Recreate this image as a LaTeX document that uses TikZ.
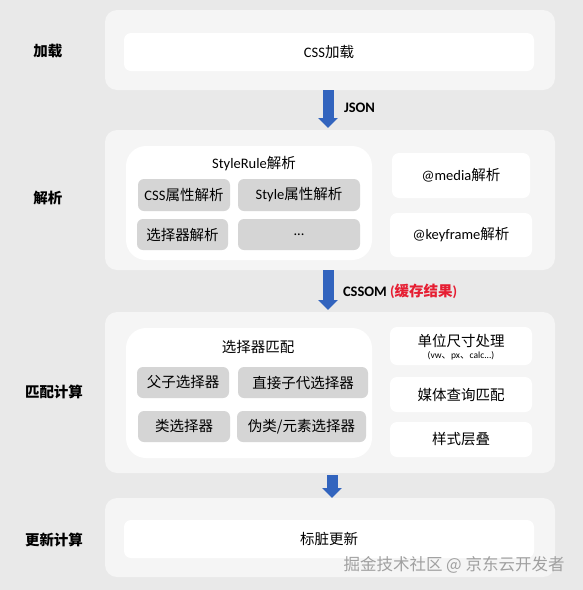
\documentclass[tikz,border=0pt]{standalone}
\usepackage{fontspec}
\setmainfont{Carlito}
\newfontfamily\cjk{Noto Sans CJK SC}
\usetikzlibrary{arrows.meta}
\definecolor{bgc}{RGB}{233,233,233}
\definecolor{panelc}{RGB}{245,245,245}
\definecolor{grayc}{RGB}{213,213,213}
\definecolor{bluec}{RGB}{50,100,190}
\definecolor{redc}{RGB}{230,30,50}
\definecolor{wmc}{RGB}{160,160,160}
\newcommand\Z[1]{{\cjk #1}}
\newcommand\bx[7]{%
  \pgfmathsetmacro\bxcx{(#3+#5)/2}\pgfmathsetmacro\bxcy{(#4+#6)/2}%
  \pgfmathsetmacro\bxw{#5-#3}\pgfmathsetmacro\bxh{#6-#4}%
  \node[#2, minimum width=\bxw pt, minimum height=\bxh pt] (#1) at (\bxcx,\bxcy) {#7};}
\begin{document}
\begin{tikzpicture}[x=1pt,y=-1pt,
  base/.style={inner sep=0pt, outer sep=0pt, font=\fontsize{14.5}{17}\selectfont},
  panel/.style={base, fill=panelc, rounded corners=12pt},
  whitebox/.style={base, fill=white, rounded corners=7pt},
  bigbox/.style={base, fill=white, rounded corners=20pt},
  graybox/.style={base, fill=grayc, rounded corners=6pt},
  lbl/.style={base, font=\fontsize{14.5}{17}\selectfont\bfseries},
  flow/.style={draw=bluec, line width=11pt, -{Triangle[width=19pt,length=10pt]}}]
\useasboundingbox (0,0) rectangle (583,590);
\fill[bgc] (0,0) rectangle (583,590);
% panels
\bx{p1}{panel}{105}{10}{555}{90}{}
\bx{p2}{panel}{105}{130}{555}{270}{}
\bx{p3}{panel}{105}{312}{555}{473}{}
\bx{p4}{panel}{105}{498}{555}{577}{}
% stage labels
\node[lbl] (l1) at (48,51) {\Z{加载}};
\node[lbl] (l2) at (48,198) {\Z{解析}};
\node[lbl] (l3) at (54,392) {\Z{匹配计算}};
\node[lbl] (l4) at (54,540) {\Z{更新计算}};
% panel 1
\bx{load}{whitebox}{124}{33}{534}{71}{CSS\Z{加载}}
% panel 2
\bx{sr}{bigbox}{126}{146}{372}{260}{}
\node[base] (srt) at (254,164) {StyleRule\Z{解析}};
\bx{g1}{graybox}{138}{179}{230}{211}{CSS\Z{属性解析}}
\bx{g2}{graybox}{238}{179}{360}{211}{Style\Z{属性解析}}
\bx{g3}{graybox}{137}{219}{228}{250}{\Z{选择器解析}}
\bx{g4}{graybox}{238}{219}{360}{250}{...}
\bx{media}{whitebox}{392}{153}{530}{198}{@media\Z{解析}}
\bx{kf}{whitebox}{390}{213}{532}{257}{@keyframe\Z{解析}}
% panel 3
\bx{sm}{bigbox}{126}{328}{372}{458}{}
\node[base] (smt) at (258,347) {\Z{选择器匹配}};
\bx{h1}{graybox}{137}{367}{229}{398}{\Z{父子选择器}}
\bx{h2}{graybox}{238}{367}{368}{398}{\Z{直接子代选择器}}
\bx{h3}{graybox}{138}{411}{230}{442}{\Z{类选择器}}
\bx{h4}{graybox}{237}{411}{366}{442}{\Z{伪类/元素选择器}}
\bx{unit}{whitebox}{390}{327}{532}{365}{}
\node[base] (unitt) at (461,341) {\Z{单位尺寸处理}};
\node[base, font=\fontsize{9.5}{11}\selectfont] (units) at (461,355.5) {(vw\Z{、}px\Z{、}calc...)};
\bx{mq}{whitebox}{390}{377}{532}{412}{\Z{媒体查询匹配}}
\bx{cas}{whitebox}{390}{422}{532}{457}{\Z{样式层叠}}
% panel 4
\bx{dirty}{whitebox}{124}{520}{534}{558}{\Z{标脏更新}}
% connectors
\draw[flow, shorten >=2pt] ([xshift=-2pt]p1.south) -- ([xshift=-2pt]p2.north);
\draw[flow, shorten >=2pt] ([xshift=-2pt]p2.south) -- ([xshift=-2pt]p3.north);
\draw[flow, shorten <=2pt] ([xshift=2pt]p3.south) -- ([xshift=2pt]p4.north);
\node[lbl, anchor=west] (json) at (344,108) {JSON};
\node[lbl, anchor=west] (cssom) at (343,291) {CSSOM \textcolor{redc}{(\Z{缓存结果})}};
% watermark
\node[base, text=wmc, font=\cjk\fontsize{16.5}{18}\selectfont] (wm) at (454,565) {掘金技术社区 @ 京东云开发者};
\end{tikzpicture}
\end{document}
